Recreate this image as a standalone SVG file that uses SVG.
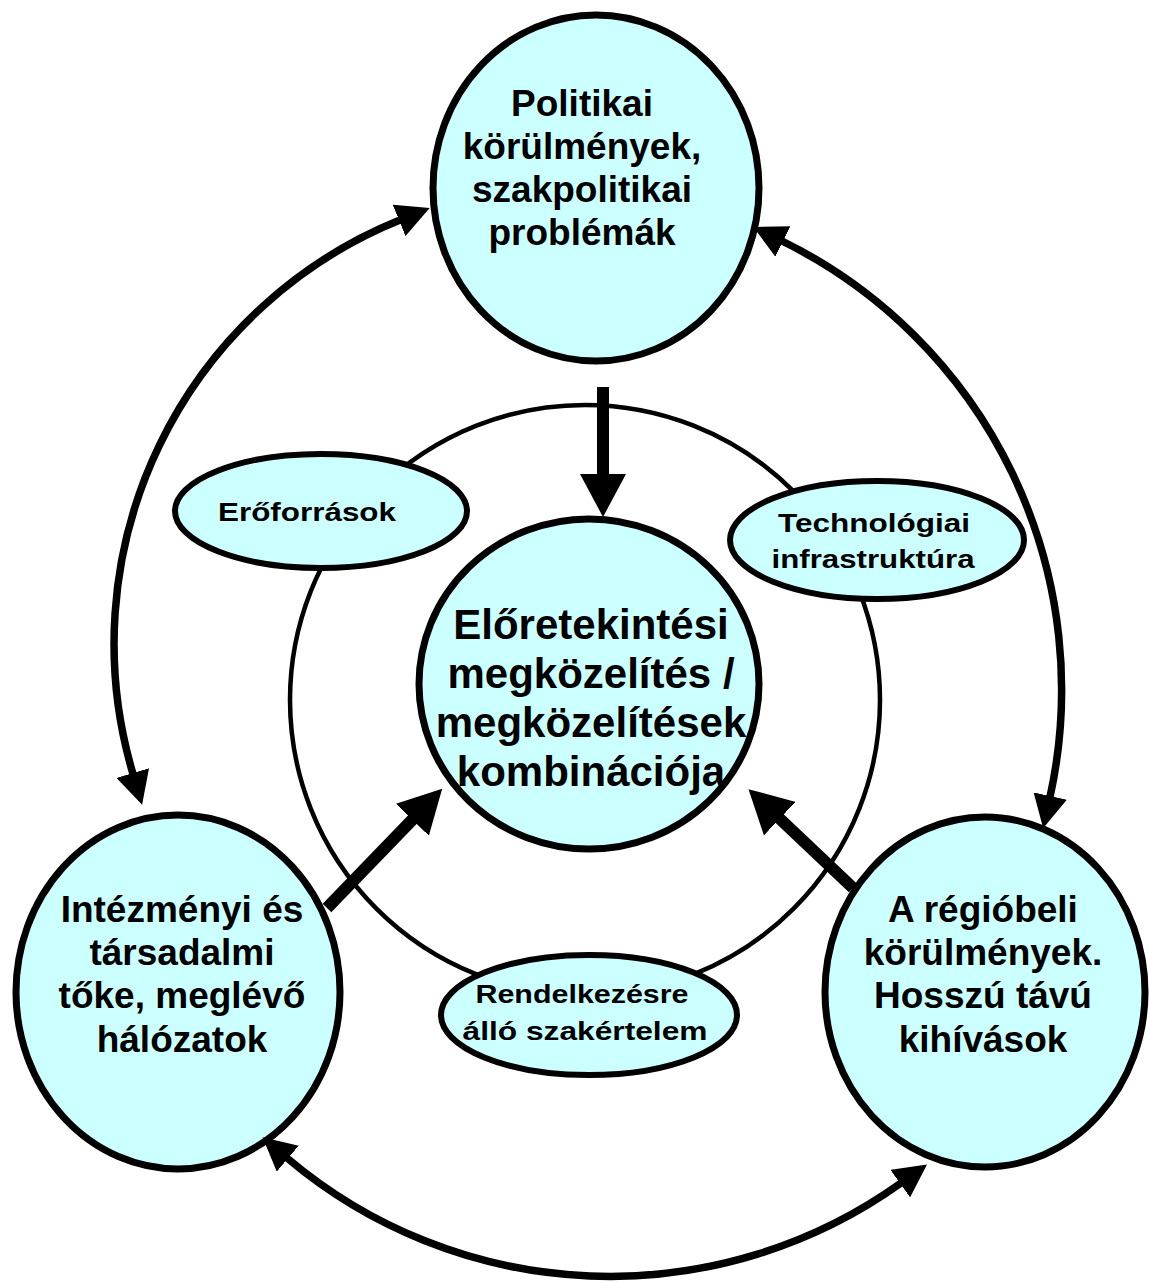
<svg xmlns="http://www.w3.org/2000/svg" width="1149" height="1283" viewBox="0 0 1149 1283">
  <style>
    .node { fill: #CCFFFF; stroke: #000; }
    .big { stroke-width: 7; }
    .small { stroke-width: 6; }
    .ring { fill: none; stroke: #000; stroke-width: 4.5; }
    .arc { fill: none; stroke: #000; stroke-width: 7.5; marker-start: url(#arcHead); marker-end: url(#arcHead); }
    .push { fill: none; stroke: #000; stroke-width: 12; marker-end: url(#pushHead); }
    text { font-family: "Liberation Sans", Arial, sans-serif; font-weight: bold; fill: #000; text-anchor: middle; }
    .t37 { font-size: 37px; }
    .t42 { font-size: 42px; }
    .t26 { font-size: 26px; }
  </style>
  <defs>
    <marker id="arcHead" markerUnits="userSpaceOnUse" viewBox="0 0 33 34" markerWidth="33" markerHeight="34" refX="1" refY="17" orient="auto-start-reverse">
      <path d="M0,0 L33,17 L0,34 z" fill="#000"/>
    </marker>
    <marker id="pushHead" markerUnits="userSpaceOnUse" viewBox="0 0 43 46" markerWidth="43" markerHeight="46" refX="1" refY="23" orient="auto">
      <path d="M0,0 L43,23 L0,46 z" fill="#000"/>
    </marker>
  </defs>

  <rect width="1149" height="1283" fill="#fff"/>

  <!-- thin ring joining the three resource ellipses -->
  <g id="ring">
    <circle class="ring" cx="585" cy="700" r="295"/>
  </g>

  <!-- nodes -->
  <g id="node-politika">
    <ellipse class="node big" cx="596" cy="188" rx="163" ry="173"/>
    <text class="t37" x="582" y="116">Politikai</text>
    <text class="t37" x="582" y="159">körülmények,</text>
    <text class="t37" x="582" y="202">szakpolitikai</text>
    <text class="t37" x="582" y="245">problémák</text>
  </g>

  <g id="node-eroforrasok">
    <ellipse class="node small" cx="321" cy="511" rx="146" ry="57"/>
    <text class="t26" x="307" y="521" textLength="178" lengthAdjust="spacingAndGlyphs">Erőforrások</text>
  </g>

  <g id="node-technologia">
    <ellipse class="node small" cx="877" cy="540" rx="147" ry="59"/>
    <text class="t26" x="874" y="532" textLength="192" lengthAdjust="spacingAndGlyphs">Technológiai</text>
    <text class="t26" x="873" y="568" textLength="203" lengthAdjust="spacingAndGlyphs">infrastruktúra</text>
  </g>

  <g id="node-eloretekintes">
    <ellipse class="node big" cx="589" cy="684" rx="170" ry="165"/>
    <text class="t42" x="591" y="639">Előretekintési</text>
    <text class="t42" x="591" y="688">megközelítés /</text>
    <text class="t42" x="591" y="737">megközelítések</text>
    <text class="t42" x="591" y="786">kombinációja</text>
  </g>

  <g id="node-intezmenyi">
    <ellipse class="node big" cx="178" cy="992" rx="162" ry="177"/>
    <text class="t37" x="182" y="922">Intézményi és</text>
    <text class="t37" x="182" y="965">társadalmi</text>
    <text class="t37" x="182" y="1008">tőke, meglévő</text>
    <text class="t37" x="182" y="1052">hálózatok</text>
  </g>

  <g id="node-regio">
    <ellipse class="node big" cx="985" cy="992" rx="160" ry="175"/>
    <text class="t37" x="983" y="922">A régióbeli</text>
    <text class="t37" x="983" y="965">körülmények.</text>
    <text class="t37" x="983" y="1008">Hosszú távú</text>
    <text class="t37" x="983" y="1052">kihívások</text>
  </g>

  <g id="node-szakertelem">
    <ellipse class="node small" cx="589" cy="1015" rx="148" ry="60"/>
    <text class="t26" x="582" y="1003" textLength="213" lengthAdjust="spacingAndGlyphs">Rendelkezésre</text>
    <text class="t26" x="585" y="1040" textLength="245" lengthAdjust="spacingAndGlyphs">álló szakértelem</text>
  </g>

  <!-- connectors -->
  <g id="connectors">
    <!-- two-way arcs between the outer nodes -->
    <path class="arc" d="M133,774 A457,457 0 0 1 400,220"/>
    <path class="arc" d="M782,241 A500,500 0 0 1 1050,797"/>
    <path class="arc" d="M901,1183 A500,500 0 0 1 287,1158"/>
    <!-- influences pointing at the central approach -->
    <path class="push" d="M603,387 L603,475"/>
    <path class="push" d="M327,908 L413,819"/>
    <path class="push" d="M853,888 L779,818"/>
  </g>
</svg>
